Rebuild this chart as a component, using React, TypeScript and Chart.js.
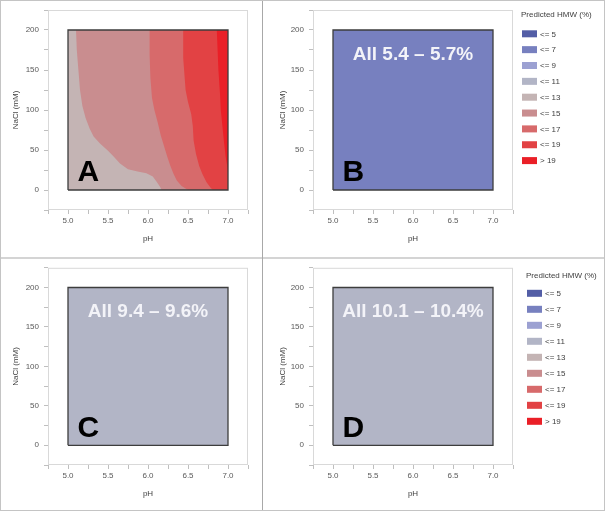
import React, { useEffect, useRef } from 'react';
import { Chart, registerables } from 'chart.js';

Chart.register(...registerables);

// ---- Data ----
const phTicks = [5.0, 5.5, 6.0, 6.5, 7.0];
const naclTicks = [0, 50, 100, 150, 200];
const phRange = [5.0, 7.0];
const naclRange = [0, 200];

const legendTitle = 'Predicted HMW (%)';
const legendLabels = ['<= 5', '<= 7', '<= 9', '<= 11', '<= 13', '<= 15', '<= 17', '<= 19', '> 19'];
const legendColors = ['#535ea6', '#7780bf', '#9ca1d2', '#b2b5c6', '#c4b4b4', '#c98d8f', '#d76a6b', '#e24244', '#ea1f27'];

// Panel A contour boundaries (pH, NaCl mM), region to the right is the next class
const b15PH = [5.10, 5.11, 5.13, 5.15, 5.18, 5.22, 5.27, 5.32, 5.40, 5.50, 5.57, 5.65, 5.75, 5.87, 5.98, 6.06, 6.11, 6.15, 6.17];
const b15NaCl = [200, 175, 150, 125, 105, 90, 77, 67, 58, 49, 42, 33, 26, 23, 21, 17, 10, 4, 0];
const b17PH = [6.02, 6.02, 6.03, 6.05, 6.08, 6.12, 6.16, 6.20, 6.24, 6.28, 6.32, 6.36, 6.42, 6.50];
const b17NaCl = [200, 170, 140, 115, 100, 85, 68, 55, 42, 30, 20, 12, 5, 0];
const b19PH = [6.44, 6.44, 6.47, 6.50, 6.54, 6.56, 6.57, 6.60, 6.64, 6.68, 6.73, 6.78, 6.81];
const b19NaCl = [200, 165, 125, 110, 95, 80, 62, 45, 30, 20, 10, 3, 0];
const bTopPH = [6.86, 6.87, 6.88, 6.90, 6.91, 6.93, 6.95, 6.97, 6.99, 7.0];
const bTopNaCl = [200, 175, 150, 120, 100, 80, 60, 42, 30, 22];

const panelLabels = ['A', 'B', 'C', 'D'];
const panelTexts = ['', 'All 5.4 \u2013 5.7%', 'All 9.4 \u2013 9.6%', 'All 10.1 \u2013 10.4%'];
const panelFillIndex = [4, 1, 3, 3];

const FONT = '"Liberation Sans", Arial, sans-serif';

function regionData(ph: number[], nacl: number[]) {
  const pts: { x: number; y: number }[] = [{ x: phRange[0], y: naclRange[1] }];
  ph.forEach((p, i) => pts.push({ x: p, y: nacl[i] }));
  if (ph[ph.length - 1] < phRange[1]) pts.push({ x: phRange[1], y: nacl[nacl.length - 1] });
  return pts;
}

function fillSet(data: any[], color: string, value: number, order: number) {
  return {
    data,
    fill: { value },
    backgroundColor: color,
    borderColor: 'rgba(0,0,0,0)',
    borderWidth: 0.5,
    pointRadius: 0,
    tension: 0,
    order,
  };
}

function buildDatasets(idx: number) {
  const sets: any[] = [];
  sets.push(
    fillSet(
      [
        { x: phRange[0], y: naclRange[1] },
        { x: phRange[1], y: naclRange[1] },
      ],
      legendColors[panelFillIndex[idx]],
      naclRange[0],
      10
    )
  );
  if (idx === 0) {
    sets.push(fillSet(regionData(b15PH, b15NaCl), legendColors[5], naclRange[1], 9));
    sets.push(fillSet(regionData(b17PH, b17NaCl), legendColors[6], naclRange[1], 8));
    sets.push(fillSet(regionData(b19PH, b19NaCl), legendColors[7], naclRange[1], 7));
    sets.push(fillSet(regionData(bTopPH, bTopNaCl), legendColors[8], naclRange[1], 6));
  }
  sets.push({
    data: [
      { x: phRange[0], y: naclRange[0] },
      { x: phRange[0], y: naclRange[1] },
      { x: phRange[1], y: naclRange[1] },
      { x: phRange[1], y: naclRange[0] },
      { x: phRange[0], y: naclRange[0] },
    ],
    fill: false,
    borderColor: '#3d3d3d',
    borderWidth: 1.3,
    pointRadius: 0,
    tension: 0,
    order: 0,
  });
  return sets;
}

type LegendSpec = { titleX: number; titleY: number; boxX: number; textX: number; firstY: number; step: number };
type PanelSpec = {
  left: number;
  top: number;
  width: number;
  height: number;
  pad: { left: number; top: number; right: number; bottom: number };
  yTitlePad: number;
  legend?: LegendSpec;
};

const panels: PanelSpec[] = [
  { left: 0, top: 0, width: 262, height: 257, pad: { left: 0, top: 10, right: 14, bottom: 7 }, yTitlePad: 10.9 },
  {
    left: 262, top: 0, width: 343, height: 257, pad: { left: 3, top: 10, right: 92, bottom: 7 }, yTitlePad: 12.7,
    legend: { titleX: 259, titleY: 15, boxX: 260, textX: 278, firstY: 33.8, step: 15.85 },
  },
  { left: 0, top: 258, width: 262, height: 253, pad: { left: 0, top: 7, right: 14, bottom: 6 }, yTitlePad: 10.9 },
  {
    left: 262, top: 258, width: 343, height: 253, pad: { left: 3, top: 7, right: 92, bottom: 6 }, yTitlePad: 12.7,
    legend: { titleX: 264, titleY: 18, boxX: 265, textX: 283, firstY: 35.3, step: 16 },
  },
];

function makeChart(canvas: HTMLCanvasElement, idx: number) {
  const spec = panels[idx];
  const frame = {
    id: 'frame' + idx,
    afterDraw(chart: any) {
      const { ctx, chartArea: a } = chart;
      ctx.save();
      ctx.strokeStyle = '#d9d9d9';
      ctx.lineWidth = 1;
      ctx.strokeRect(a.left + 0.5, a.top + 0.5, a.right - a.left - 1, a.bottom - a.top - 1);
      ctx.restore();
    },
  };
  const texts = {
    id: 'texts' + idx,
    afterDatasetsDraw(chart: any) {
      const { ctx } = chart;
      const xs = chart.scales.x;
      const ys = chart.scales.y;
      ctx.save();
      ctx.fillStyle = '#000000';
      ctx.font = 'bold 30px ' + FONT;
      ctx.textAlign = 'left';
      ctx.textBaseline = 'alphabetic';
      ctx.fillText(panelLabels[idx], xs.getPixelForValue(5.12), ys.getPixelForValue(11));
      if (panelTexts[idx]) {
        ctx.fillStyle = '#f3f3f8';
        ctx.font = 'bold 19px ' + FONT;
        ctx.textAlign = 'center';
        ctx.fillText(panelTexts[idx], xs.getPixelForValue(6.0), ys.getPixelForValue(163));
      }
      ctx.restore();
    },
  };
  const legend = {
    id: 'hmwLegend' + idx,
    afterDraw(chart: any) {
      const lg = spec.legend;
      if (!lg) return;
      const { ctx } = chart;
      ctx.save();
      ctx.font = '8px ' + FONT;
      ctx.textAlign = 'left';
      ctx.textBaseline = 'middle';
      ctx.fillStyle = '#404040';
      ctx.fillText(legendTitle, lg.titleX, lg.titleY);
      legendLabels.forEach((lab, i) => {
        const cy = lg.firstY + i * lg.step;
        ctx.fillStyle = legendColors[i];
        ctx.fillRect(lg.boxX, cy - 3.5, 15, 7);
        ctx.fillStyle = '#404040';
        ctx.fillText(lab, lg.textX, cy + 0.5);
      });
      ctx.restore();
    },
  };

  const tickColor = '#595959';
  return new Chart(canvas, {
    type: 'line',
    data: { datasets: buildDatasets(idx) },
    options: {
      animation: false,
      responsive: false,
      maintainAspectRatio: false,
      events: [],
      layout: { padding: spec.pad },
      plugins: { legend: { display: false }, tooltip: { enabled: false } },
      scales: {
        x: {
          type: 'linear',
          min: 4.75,
          max: 7.25,
          afterFit: (s: any) => {
            s.height = 40;
          },
          border: { display: false },
          grid: { drawOnChartArea: false, drawTicks: true, tickLength: 4, color: '#bfbfbf' },
          ticks: {
            stepSize: 0.25,
            autoSkip: false,
            maxRotation: 0,
            padding: 2,
            color: tickColor,
            font: { family: FONT, size: 8 },
            callback: (v: any) => {
              const n = Number(v);
              const hit = phTicks.find((t) => Math.abs(t - n) < 1e-6);
              return hit !== undefined ? hit.toFixed(1) : '';
            },
          },
          title: {
            display: true,
            text: 'pH',
            color: '#404040',
            font: { family: FONT, size: 8 },
            padding: { top: 0, bottom: 6.9 },
          },
        },
        y: {
          type: 'linear',
          min: -25,
          max: 225,
          afterFit: (s: any) => {
            s.width = 48;
          },
          border: { display: false },
          grid: { drawOnChartArea: false, drawTicks: true, tickLength: 4, color: '#bfbfbf' },
          ticks: {
            stepSize: 25,
            autoSkip: false,
            padding: 5,
            color: tickColor,
            font: { family: FONT, size: 8 },
            callback: (v: any) => {
              const n = Number(v);
              const hit = naclTicks.find((t) => Math.abs(t - n) < 1e-6);
              return hit !== undefined ? String(hit) : '';
            },
          },
          title: {
            display: true,
            text: 'NaCl (mM)',
            color: '#404040',
            font: { family: FONT, size: 8 },
            padding: { top: spec.yTitlePad, bottom: 0 },
          },
        },
      },
    } as any,
    plugins: [frame, texts, legend],
  });
}

function Panel({ idx }: { idx: number }) {
  const ref = useRef<HTMLCanvasElement | null>(null);
  useEffect(() => {
    if (!ref.current) return;
    const chart = makeChart(ref.current, idx);
    return () => chart.destroy();
  }, [idx]);
  const p = panels[idx];
  return (
    <canvas
      ref={ref}
      width={p.width}
      height={p.height}
      style={{ position: 'absolute', left: p.left, top: p.top, width: p.width, height: p.height }}
    />
  );
}

export default function App() {
  useEffect(() => {
    Chart.defaults.font.family = FONT;
  }, []);
  return (
    <div
      style={{
        position: 'fixed',
        left: 0,
        top: 0,
        width: 605,
        height: 511,
        background: '#ffffff',
        overflow: 'hidden',
      }}
    >
      {panels.map((_, i) => (
        <Panel key={i} idx={i} />
      ))}
      <div style={{ position: 'absolute', left: 0, top: 257, width: 605, height: 2, background: '#d4d4d4' }} />
      <div style={{ position: 'absolute', left: 262, top: 0, width: 1, height: 511, background: '#a8a8a8' }} />
      <div
        style={{
          position: 'absolute',
          left: 0,
          top: 0,
          width: 605,
          height: 511,
          boxSizing: 'border-box',
          border: '1px solid #c4c4c4',
        }}
      />
    </div>
  );
}
